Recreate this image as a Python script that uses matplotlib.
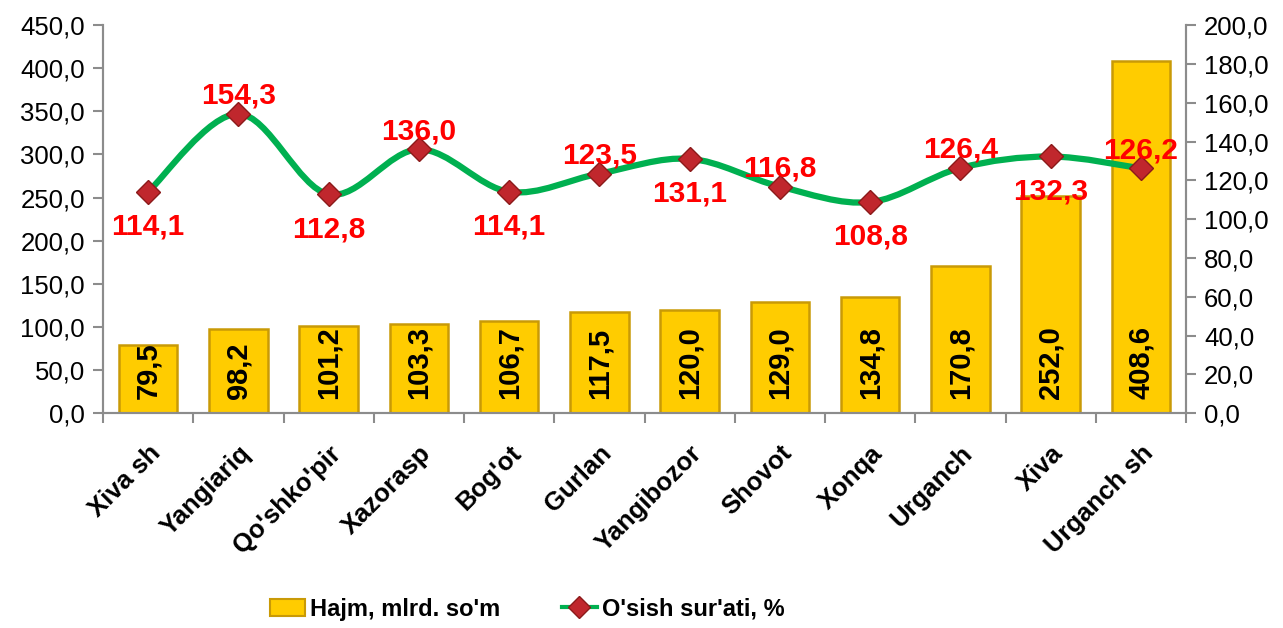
import numpy as np
import matplotlib
matplotlib.use('Agg')
import matplotlib.pyplot as plt
from matplotlib.path import Path
from matplotlib.patches import PathPatch, Patch
from matplotlib.lines import Line2D

plt.rcParams['font.family'] = ['Liberation Sans', 'DejaVu Sans']

districts = ['Xiva sh', 'Yangiariq', "Qo'shko'pir", 'Xazorasp', "Bog'ot", 'Gurlan',
             'Yangibozor', 'Shovot', 'Xonqa', 'Urganch', 'Xiva', 'Urganch sh']
hajm = [79.5, 98.2, 101.2, 103.3, 106.7, 117.5, 120.0, 129.0, 134.8, 170.8, 252.0, 408.6]
osish = [114.1, 154.3, 112.8, 136.0, 114.1, 123.5, 131.1, 116.8, 108.8, 126.4, 132.3, 126.2]

def fmt(v):
    return ('%.1f' % v).replace('.', ',')

fig = plt.figure(figsize=(12.83, 6.28), dpi=100)
ax = fig.add_axes([0.0803, 0.342, 0.8441, 0.618])
ax2 = ax.twinx()

x = np.arange(len(districts))

# bars
ax.bar(x, hajm, width=0.65, color='#FFCC00', edgecolor='#C99A06', linewidth=1.8, zorder=2)
for xi, v in zip(x, hajm):
    ax.annotate(fmt(v), (xi, 0), xytext=(0, 10), textcoords='offset points',
                rotation=90, ha='center', va='bottom', fontsize=21,
                fontweight='bold', color='black', zorder=3)

ax.set_xlim(-0.5, len(districts) - 0.5)
ax.set_ylim(0, 450)
ax.set_yticks(np.arange(0, 451, 50))
ax.set_yticklabels([fmt(v) for v in np.arange(0, 451, 50)], fontsize=18.5)
ax2.set_ylim(0, 200)
ax2.set_yticks(np.arange(0, 201, 20))
ax2.set_yticklabels([fmt(v) for v in np.arange(0, 201, 20)], fontsize=18.5)

ax.set_xticks(x)
ax.set_xticklabels(districts, rotation=45, ha='right', rotation_mode='anchor',
                   fontsize=18.5, fontweight='bold')
ax.set_xticks(np.arange(-0.5, len(districts)), minor=True)
ax.tick_params(axis='x', which='major', length=0, pad=20)
ax.tick_params(axis='x', which='minor', length=7, color='#8c8c8c', width=1.5)
ax.tick_params(axis='y', length=7, color='#8c8c8c', width=1.5, pad=6)
ax2.tick_params(axis='y', length=7, color='#8c8c8c', width=1.5, pad=6)

for a in (ax, ax2):
    a.spines['top'].set_visible(False)
    for s in ('left', 'right', 'bottom'):
        a.spines[s].set_color('#8c8c8c')
        a.spines[s].set_linewidth(1.5)

# smoothed line (Catmull-Rom style bezier through the points)
pts = np.column_stack([x, osish]).astype(float)
verts = [tuple(pts[0])]
codes = [Path.MOVETO]
n = len(pts)
for i in range(n - 1):
    p0 = pts[i - 1] if i > 0 else pts[i]
    p1 = pts[i]
    p2 = pts[i + 1]
    p3 = pts[i + 2] if i + 2 < n else pts[i + 1]
    c1 = p1 + (p2 - p0) / 6
    c2 = p2 - (p3 - p1) / 6
    verts += [tuple(c1), tuple(c2), tuple(p2)]
    codes += [Path.CURVE4] * 3
ax2.add_patch(PathPatch(Path(verts, codes), facecolor='none', edgecolor='#00B050',
                        linewidth=4.5, zorder=4, capstyle='butt'))
ax2.plot(x, osish, linestyle='none', marker='D', markersize=12,
         markerfacecolor='#C0272D', markeredgecolor='#8B1A1A', zorder=5)

for i, (xi, v) in enumerate(zip(x, osish)):
    dy = -25 if i % 2 == 0 else 13
    ax2.annotate(fmt(v), (xi, v), xytext=(0, dy), textcoords='offset points',
                 ha='center', va='center', fontsize=21.5, fontweight='bold',
                 color='#FF0000', zorder=6)

handles = [Patch(facecolor='#FFCC00', edgecolor='#C99A06', linewidth=1.5),
           Line2D([0], [0], color='#00B050', linewidth=3, marker='D', markersize=11,
                  markerfacecolor='#C0272D', markeredgecolor='#8B1A1A')]
fig.legend(handles, ["Hajm, mlrd. so'm", "O'sish sur'ati, %"], loc='center left',
           bbox_to_anchor=(258 / 1283, 0.03), ncol=2, frameon=False, borderpad=0,
           columnspacing=2.6, handlelength=1.5, handletextpad=0.2,
           prop={'weight': 'bold', 'size': 17})

fig.savefig('out.png', dpi=100)
